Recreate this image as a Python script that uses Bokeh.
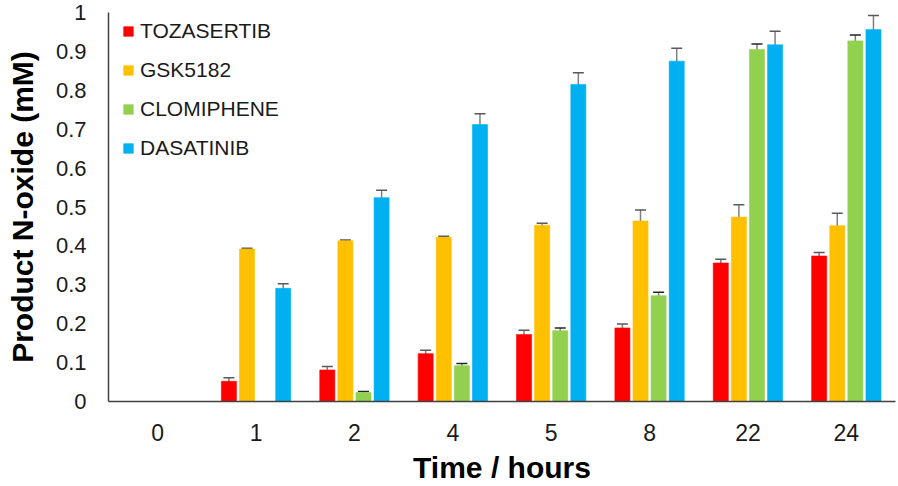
from bokeh.plotting import figure
from bokeh.models import (ColumnDataSource, FactorRange, Range1d, Whisker, TeeHead,
                          FixedTicker, NumeralTickFormatter, Legend)
from bokeh.transform import dodge
from bokeh.embed import file_html
from bokeh.resources import INLINE

# ---- data ----
times = ["0", "1", "2", "4", "5", "8", "22", "24"]
series_names = ["TOZASERTIB", "GSK5182", "CLOMIPHENE", "DASATINIB"]
tozasertib = [0, 0.052, 0.081, 0.123, 0.172, 0.189, 0.356, 0.374]
tozasertib_err = [0, 0.009, 0.009, 0.009, 0.011, 0.010, 0.010, 0.009]
gsk5182 = [0, 0.392, 0.413, 0.422, 0.453, 0.464, 0.474, 0.452]
gsk5182_err = [0, 0.002, 0.002, 0.003, 0.005, 0.028, 0.032, 0.032]
clomiphene = [0, 0, 0.023, 0.092, 0.182, 0.272, 0.905, 0.927]
clomiphene_err = [0, 0, 0.003, 0.006, 0.007, 0.009, 0.014, 0.015]
dasatinib = [0, 0.291, 0.524, 0.712, 0.815, 0.875, 0.917, 0.956]
dasatinib_err = [0, 0.012, 0.019, 0.028, 0.030, 0.033, 0.035, 0.036]
yticks = [0, 0.1, 0.2, 0.3, 0.4, 0.5, 0.6, 0.7, 0.8, 0.9, 1.0]

# ---- style ----
colors = ["#FF0000", "#FFC000", "#92D050", "#00B0F0"]
cap_colors = ["#595959", "#595959", "#262626", "#595959"]
offsets = [-0.276, -0.092, 0.092, 0.276]
bar_w = 0.153
FONT = "Liberation Sans"

p = figure(width=898, height=486, x_range=FactorRange(factors=times),
           y_range=Range1d(0, 1), output_backend="svg", toolbar_location=None,
           min_border_left=108, min_border_right=3, min_border_top=12,
           min_border_bottom=85)
p.outline_line_color = None
p.xgrid.grid_line_color = None
p.ygrid.grid_line_color = None

values = [tozasertib, gsk5182, clomiphene, dasatinib]
errors = [tozasertib_err, gsk5182_err, clomiphene_err, dasatinib_err]

legend_items = []
for name, vals, errs, col, ccol, off in zip(series_names, values, errors, colors, cap_colors, offsets):
    src = ColumnDataSource(dict(t=times, v=vals))
    r = p.vbar(x=dodge("t", off, range=p.x_range), top="v", width=bar_w, source=src,
               fill_color=col, line_color=col, line_alpha=0.6)
    legend_items.append((name, [r]))
    keep = [i for i, e in enumerate(errs) if e > 0]
    wsrc = ColumnDataSource(dict(
        t=[times[i] for i in keep],
        upper=[vals[i] + errs[i] for i in keep],
        lower=[vals[i] - errs[i] for i in keep]))
    w = Whisker(source=wsrc, base=dodge("t", off, range=p.x_range), upper="upper", lower="lower",
                line_color="#7f7f7f", line_width=1.5,
                upper_head=TeeHead(size=11, line_color=ccol, line_width=1.5),
                lower_head=TeeHead(size=11, line_color=ccol, line_width=1.5))
    p.add_layout(w)

legend = Legend(items=legend_items, location=(14, 241), orientation="vertical")
legend.padding = 0
legend.margin = 0
legend.spacing = 15
legend.label_height = 24
legend.glyph_width = 12
legend.glyph_height = 12
legend.label_standoff = 6
legend.border_line_color = None
legend.background_fill_alpha = 0
legend.label_text_font = FONT
legend.label_text_font_size = "21px"
legend.label_text_color = "#1a1a1a"
p.add_layout(legend, "center")

# axes
for ax in (p.xaxis[0], p.yaxis[0]):
    ax.major_tick_line_color = None
    ax.minor_tick_line_color = None
    ax.axis_line_color = "#404040"
    ax.axis_line_width = 1.5
    ax.major_label_text_font = FONT
    ax.major_label_text_color = "#1a1a1a"
    ax.axis_label_text_font = FONT
    ax.axis_label_text_font_style = "bold"
    ax.axis_label_text_color = "#000000"
    ax.axis_label_text_font_size = "30px"

p.yaxis.ticker = FixedTicker(ticks=yticks)
p.yaxis.formatter = NumeralTickFormatter(format="0.[0]")
p.yaxis.major_label_text_font_size = "22px"
p.yaxis.major_label_standoff = 16
p.yaxis.axis_label = "Product N-oxide (mM)"
p.yaxis.axis_label_standoff = 14

p.xaxis.major_label_text_font_size = "23px"
p.xaxis.major_label_standoff = 16
p.xaxis.axis_label = "Time / hours"
p.xaxis.axis_label_standoff = 7

open("out.html", "w").write(file_html(p, INLINE))
